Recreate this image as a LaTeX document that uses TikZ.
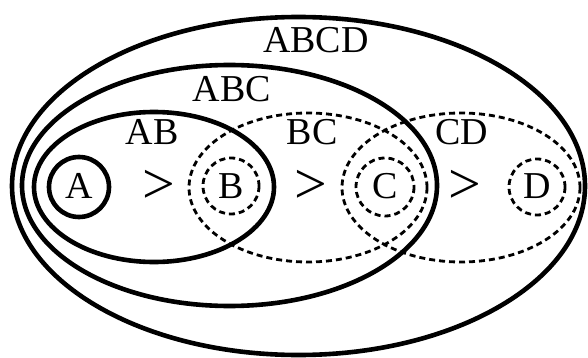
\documentclass[tikz,border=0pt]{standalone}
\usepackage{fontspec}
\setmainfont{Liberation Serif}
\begin{document}
\begin{tikzpicture}[x=1pt,y=-1pt,
  solidline/.style={line width=4.6pt},
  dashline/.style={line width=2.8pt, dash pattern=on 6pt off 4pt},
  lbl/.style={font=\fontsize{38}{38}\selectfont, inner sep=0pt, anchor=base},
  gt/.style={font=\fontsize{58}{58}\selectfont, inner sep=0pt}]
\useasboundingbox (0,0) rectangle (588,358);
% solid ellipses
\draw[solidline] (298.5,186) ellipse [x radius=286.5, y radius=169];
\draw[solidline] (229.5,185.5) ellipse [x radius=207.5, y radius=120.5];
\draw[solidline] (154,187) ellipse [x radius=120, y radius=75];
\draw[solidline] (79,187) circle [radius=30];
% dashed ellipses
\draw[dashline] (308,187.5) ellipse [x radius=119, y radius=74.5];
\draw[dashline] (461,187.5) ellipse [x radius=119, y radius=74.5];
\draw[dashline] (231,186) circle [radius=28];
\draw[dashline] (385,187) circle [radius=29];
\draw[dashline] (537,187) circle [radius=28];
% labels
\node[lbl] (abcd) at (316,53) {ABCD};
\node[lbl] (abc) at (232,102) {ABC};
\node[lbl] (ab) at (152,145) {AB};
\node[lbl] (bc) at (312,145) {BC};
\node[lbl] (cd) at (462,145) {CD};
\node[lbl] (a) at (79,198) {A};
\node[lbl] (b) at (231,198) {B};
\node[lbl] (c) at (385,198) {C};
\node[lbl] (d) at (537,198) {D};
\node[gt] (g1) at (159,187) {>};
\node[gt] (g2) at (311,187) {>};
\node[gt] (g3) at (465,187) {>};
\end{tikzpicture}
\end{document}
